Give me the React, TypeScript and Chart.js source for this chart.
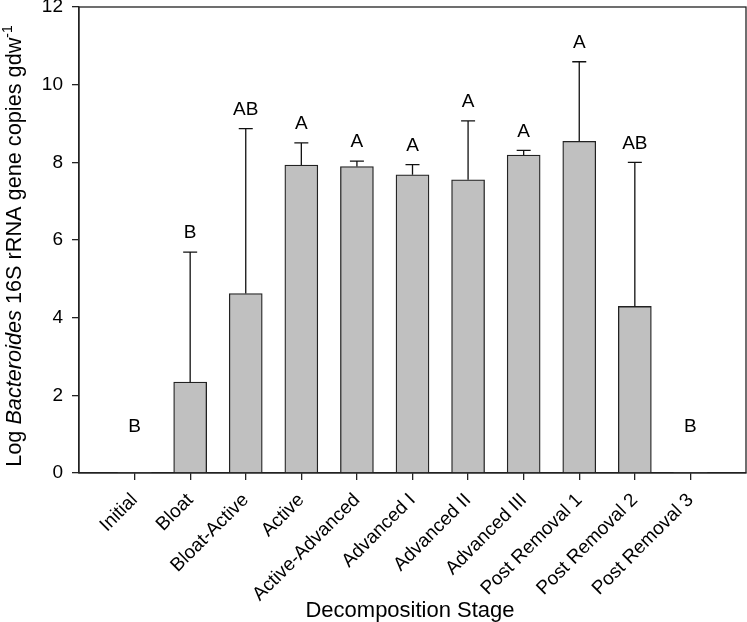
import React, { useEffect, useRef } from 'react';
import { Chart, registerables } from 'chart.js';

Chart.register(...registerables);

const categories = [
  'Initial',
  'Bloat',
  'Bloat-Active',
  'Active',
  'Active-Advanced',
  'Advanced I',
  'Advanced II',
  'Advanced III',
  'Post Removal 1',
  'Post Removal 2',
  'Post Removal 3',
];
const means = [0, 2.34, 4.62, 7.93, 7.89, 7.68, 7.55, 8.19, 8.54, 4.29, 0];
const errors = [0, 3.35, 4.25, 0.57, 0.14, 0.26, 1.52, 0.12, 2.05, 3.71, 0];
const letters = ['B', 'B', 'AB', 'A', 'A', 'A', 'A', 'A', 'A', 'AB', 'B'];
const yTicks = [0, 2, 4, 6, 8, 10, 12];

const xTitle = 'Decomposition Stage';
const yTitleParts = [
  { text: 'Log ', style: 'normal', sup: false },
  { text: 'Bacteroides', style: 'italic', sup: false },
  { text: ' 16S rRNA gene copies gdw', style: 'normal', sup: false },
  { text: '-1', style: 'normal', sup: true },
];

const FONT = '"Liberation Sans", Arial, Helvetica, sans-serif';
const INK = '#222';

const overlay = {
  id: 'overlay',
  afterDatasetsDraw(chart: any) {
    const { ctx, chartArea, scales } = chart;
    const x = scales.x;
    const y = scales.y;
    ctx.save();

    // error bars
    ctx.strokeStyle = '#111';
    ctx.lineWidth = 1.3;
    means.forEach((m, i) => {
      const e = errors[i];
      const px = x.getPixelForValue(i + 1);
      if (e > 0) {
        const y0 = y.getPixelForValue(m);
        const y1 = y.getPixelForValue(m + e);
        ctx.beginPath();
        ctx.moveTo(px, y0);
        ctx.lineTo(px, y1);
        ctx.moveTo(px - 7, y1);
        ctx.lineTo(px + 7, y1);
        ctx.stroke();
      }
    });

    // significance letters
    ctx.fillStyle = '#000';
    ctx.font = `19px ${FONT}`;
    ctx.textAlign = 'center';
    ctx.textBaseline = 'middle';
    means.forEach((m, i) => {
      const top = m + errors[i];
      const px = x.getPixelForValue(i + 1);
      const ly = top > 0 ? y.getPixelForValue(top) - 19 : y.getPixelForValue(0) - 46;
      ctx.fillText(letters[i], px, ly);
    });

    // frame
    ctx.strokeStyle = INK;
    ctx.lineWidth = 1.3;
    ctx.strokeRect(
      chartArea.left,
      chartArea.top,
      chartArea.right - chartArea.left,
      chartArea.bottom - chartArea.top
    );

    // x title
    ctx.font = `22px ${FONT}`;
    ctx.textAlign = 'center';
    ctx.textBaseline = 'alphabetic';
    ctx.fillText(xTitle, 410, 617);

    // y title (mixed styles)
    const fontFor = (p: any) =>
      p.sup ? `14px ${FONT}` : `${p.style === 'italic' ? 'italic ' : ''}21.7px ${FONT}`;
    let total = 0;
    const widths = yTitleParts.map((p) => {
      ctx.font = fontFor(p);
      const w = ctx.measureText(p.text).width;
      total += w;
      return w;
    });
    const cy = 246;
    ctx.translate(21, cy);
    ctx.rotate(-Math.PI / 2);
    ctx.textAlign = 'left';
    let cx = -total / 2;
    yTitleParts.forEach((p, i) => {
      ctx.font = fontFor(p);
      ctx.fillText(p.text, cx, p.sup ? -9 : 0);
      cx += widths[i];
    });

    ctx.restore();
  },
};

export default function App() {
  const ref = useRef<HTMLCanvasElement | null>(null);

  useEffect(() => {
    document.body.style.margin = '0';
    const canvas = ref.current;
    if (!canvas) return;
    const chart = new Chart(canvas, {
      type: 'bar',
      data: {
        datasets: [
          {
            data: means.map((v, i) => ({ x: i + 1, y: v })),
            backgroundColor: '#c0c0c0',
            borderColor: INK,
            borderWidth: (c: any) => (c.raw && c.raw.y === 0 ? 0 : 1.3),
            barThickness: 33,
          },
        ],
      },
      options: {
        responsive: false,
        animation: false,
        devicePixelRatio: 1,
        layout: { padding: { top: 7, right: 1, left: 0, bottom: 0 } },
        plugins: {
          legend: { display: false },
          tooltip: { enabled: false },
        },
        scales: {
          x: {
            type: 'linear',
            min: 0,
            max: 12,
            offset: false,
            afterBuildTicks: (s: any) => {
              s.ticks = categories.map((_, i) => ({ value: i + 1 }));
            },
            afterFit: (s: any) => {
              s.height = 149;
              s.paddingLeft = 0;
              s.paddingRight = 0;
            },
            ticks: {
              autoSkip: false,
              minRotation: 45,
              maxRotation: 45,
              padding: 9,
              color: '#000',
              font: { family: FONT, size: 19 },
              callback: (v: any) => categories[Number(v) - 1] ?? '',
            },
            grid: {
              drawOnChartArea: false,
              drawTicks: true,
              tickLength: 7,
              color: INK,
              lineWidth: 1.3,
              offset: false,
            },
            border: { display: true, color: INK, width: 1.3 },
          },
          y: {
            min: 0,
            max: 12,
            afterBuildTicks: (s: any) => {
              s.ticks = yTicks.map((v) => ({ value: v }));
            },
            afterFit: (s: any) => {
              s.width = 79;
              s.paddingTop = 0;
              s.paddingBottom = 0;
            },
            ticks: {
              padding: 9,
              color: '#000',
              font: { family: FONT, size: 19 },
              callback: (v: any) => String(v),
            },
            grid: {
              drawOnChartArea: false,
              drawTicks: true,
              tickLength: 7,
              color: INK,
              lineWidth: 1.3,
            },
            border: { display: true, color: INK, width: 1.3 },
          },
        },
      },
      plugins: [overlay],
    } as any);
    return () => chart.destroy();
  }, []);

  return (
    <div style={{ width: 747, height: 622 }}>
      <canvas ref={ref} width={747} height={622} style={{ display: 'block' }} />
    </div>
  );
}
